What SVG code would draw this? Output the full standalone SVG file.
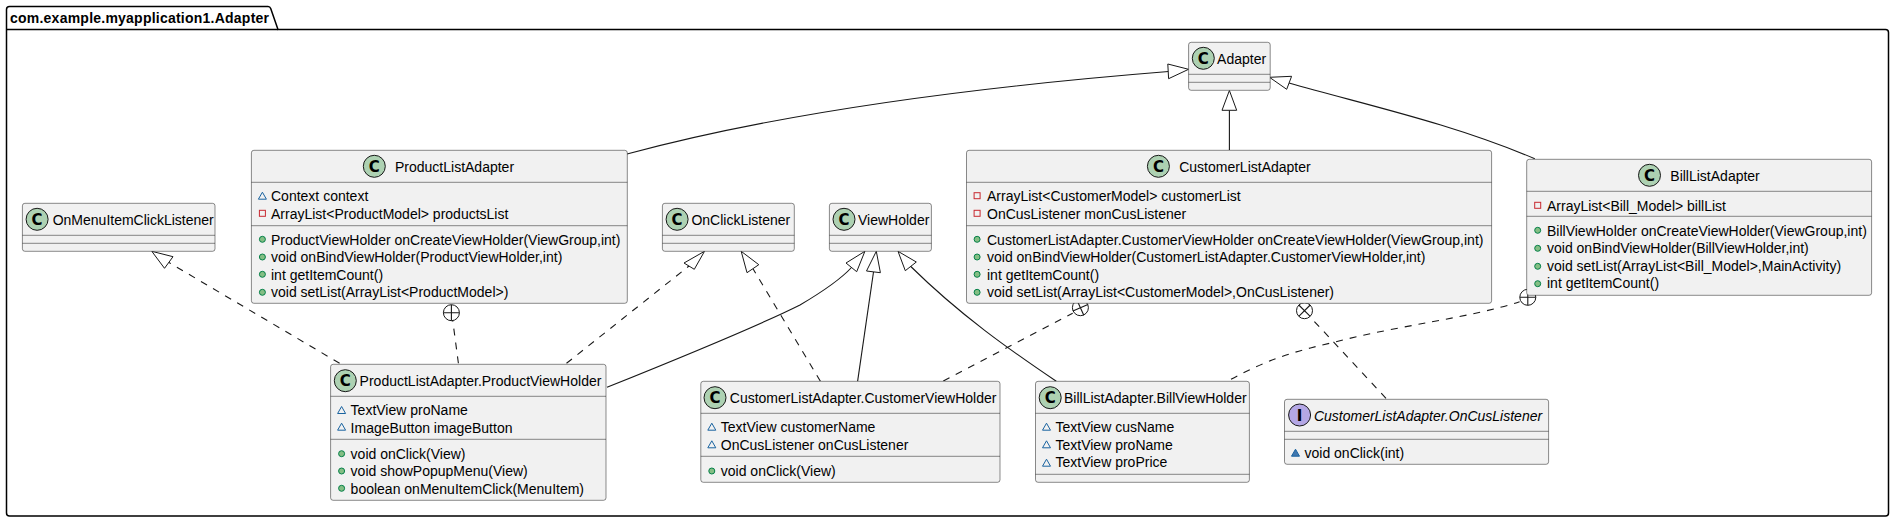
<svg xmlns="http://www.w3.org/2000/svg" width="1894" height="522" viewBox="0 0 1894 522">
<style>
text{font-family:"Liberation Sans",Arial,sans-serif;font-size:14px;fill:#000}
.pk{fill:#fff;stroke:#000;stroke-width:1.5}
.pt{font-weight:bold}
.b{fill:#F1F1F1;stroke:#181818;stroke-width:.5}
.s{stroke:#181818;stroke-width:.5;fill:none}
.ci{fill:#ADD1B2;stroke:#181818;stroke-width:1}
.ii{fill:#B4A7E5;stroke:#181818;stroke-width:1}
.g{font-family:"DejaVu Sans",sans-serif;font-weight:bold;font-size:15px;text-anchor:middle}
.it{font-style:italic}
.tri{fill:none;stroke:#1963A0;stroke-width:1}
.trf{fill:#4177AF;stroke:#1963A0;stroke-width:1}
.sq{fill:none;stroke:#C82930;stroke-width:1}
.pub{fill:#84BE84;stroke:#038048;stroke-width:1}
.l{fill:none;stroke:#181818;stroke-width:1.1}
.d{stroke-dasharray:7,7}
.h{fill:#fff;stroke:#181818;stroke-width:1}
</style>
<defs>
<path id="vt" d="M-4,3.5 L0,-3.5 L4,3.5 Z"/>
<rect id="vs" x="-3" y="-3" width="6" height="6"/>
<circle id="vc" r="3"/>
</defs>
<g id="package">
<path class="pk" d="M6.5,29.5 V9.5 Q6.5,6.5 9.5,6.5 H268 Q270,6.5 270.7,8.5 L278,29.5 H1885.5 Q1888.5,29.5 1888.5,32.5 V513 Q1888.5,516 1885.5,516 H9.5 Q6.5,516 6.5,513 Z"/>
<path class="pk" d="M6.5,29.5 H278" fill="none"/>
<text class="pt" x="10" y="23" textLength="259">com.example.myapplication1.Adapter</text>
</g>
<g id="connectors">
<path class="l" d="M627,154 C790,110 1000,85 1168.6,71.5"/>
<path class="h" d="M1188.6,69.3 L1167.8,64 L1168.6,78.7 Z"/>
<path class="l" d="M1229.4,150 V110.3"/>
<path class="h" d="M1229.4,90.5 L1222,110.3 L1236.7,110.3 Z"/>
<path class="l" d="M1534.8,158.7 C1450,123 1370,106 1289,83"/>
<path class="h" d="M1269.5,77.3 L1291.6,76.3 L1286.7,89.3 Z"/>
<path class="l d" d="M339.6,363.3 L168.6,262.3"/>
<path class="h" d="M151.8,251.3 L173,256.7 L164.5,268.3 Z"/>
<path class="l d" d="M566.5,363.3 L689,266"/>
<path class="h" d="M704.5,251.3 L684,263 L694.3,269.3 Z"/>
<path class="l d" d="M458.4,363.3 L452.7,320.3"/>
<circle class="h" cx="451.4" cy="312.7" r="8"/>
<path class="l" d="M443.4,312.7 H459.4 M451.4,304.7 V320.7"/>
<path class="l" d="M607,387.3 C680,358 760,325 800,305 C822,292 840,280 851.5,267.5"/>
<path class="h" d="M864.9,251.3 L846,263 L856.7,271.7 Z"/>
<path class="l" d="M857.6,381.3 L873.5,272"/>
<path class="h" d="M876.3,251.3 L866.5,271 L880.4,272.7 Z"/>
<path class="l" d="M1056.3,381.3 C1010,350 960,315 910.8,266.5"/>
<path class="h" d="M898,251.3 L916.3,262 L905.3,270.7 Z"/>
<path class="l d" d="M820.4,381.3 L753,268.7"/>
<path class="h" d="M741.2,251.3 L758.8,264.7 L747,272.7 Z"/>
<path class="l d" d="M943.3,381 L1072.7,313.3"/>
<circle class="h" cx="1080.4" cy="307.7" r="8"/>
<path class="l" d="M1072.9,311 L1087.9,304.4 M1077,300.2 L1083.8,315.2"/>
<path class="l d" d="M1386,398.3 L1311.4,318.3"/>
<circle class="h" cx="1304.5" cy="310.7" r="8"/>
<path class="l" d="M1298.8,305 L1310.2,316.4 M1310.2,305 L1298.8,316.4"/>
<path class="l d" d="M1231,379.3 C1270,358 1300,350 1333.9,342.3 C1400,325 1470,318 1519.6,301.7"/>
<circle class="h" cx="1527.8" cy="297.3" r="8"/>
<path class="l" d="M1519.8,297.3 H1535.8 M1527.8,289.3 V305.3"/>
</g>
<g id="OnMenuItemClickListener">
<rect class="b" x="22.4" y="203.3" width="192.6" height="48" rx="2.5"/>
<path class="s" d="M22.4,235.3 H215 M22.4,243.3 H215"/>
<circle class="ci" cx="37.1" cy="219.3" r="11"/><text class="g" x="37.1" y="224.8">C</text>
<text x="52.7" y="224.8">OnMenuItemClickListener</text>
</g>
<g id="ProductListAdapter">
<rect class="b" x="251.4" y="150.3" width="375.9" height="153" rx="2.5"/>
<path class="s" d="M251.4,182.3 H627.3 M251.4,225.7 H627.3"/>
<circle class="ci" cx="374.3" cy="166.3" r="11"/><text class="g" x="374.3" y="171.8">C</text>
<text x="395" y="171.7">ProductListAdapter</text>
<use class="tri" href="#vt" x="262.4" y="195.7"/><text x="271" y="201">Context context</text>
<use class="sq" href="#vs" x="262.4" y="213.3"/><text x="271" y="218.5">ArrayList&lt;ProductModel&gt; productsList</text>
<use class="pub" href="#vc" x="262.4" y="239.3"/><text x="271" y="244.5">ProductViewHolder onCreateViewHolder(ViewGroup,int)</text>
<use class="pub" href="#vc" x="262.4" y="257"/><text x="271" y="262">void onBindViewHolder(ProductViewHolder,int)</text>
<use class="pub" href="#vc" x="262.4" y="274.3"/><text x="271" y="279.5">int getItemCount()</text>
<use class="pub" href="#vc" x="262.4" y="292.3"/><text x="271" y="297">void setList(ArrayList&lt;ProductModel&gt;)</text>
</g>
<g id="OnClickListener">
<rect class="b" x="662.4" y="203.3" width="131.9" height="48" rx="2.5"/>
<path class="s" d="M662.4,235.3 H794.3 M662.4,243.3 H794.3"/>
<circle class="ci" cx="677.1" cy="219.3" r="11"/><text class="g" x="677.1" y="224.8">C</text>
<text x="691.4" y="224.8">OnClickListener</text>
</g>
<g id="ViewHolder">
<rect class="b" x="829.4" y="203.3" width="102" height="48" rx="2.5"/>
<path class="s" d="M829.4,235.3 H931.4 M829.4,243.3 H931.4"/>
<circle class="ci" cx="844" cy="219.3" r="11"/><text class="g" x="844" y="224.8">C</text>
<text x="858" y="224.8">ViewHolder</text>
</g>
<g id="Adapter">
<rect class="b" x="1188.6" y="42.3" width="81.6" height="48" rx="2.5"/>
<path class="s" d="M1188.6,74.3 H1270.2 M1188.6,82.3 H1270.2"/>
<circle class="ci" cx="1203.3" cy="58.3" r="11"/><text class="g" x="1203.3" y="63.8">C</text>
<text x="1217.1" y="63.8">Adapter</text>
</g>
<g id="CustomerListAdapter">
<rect class="b" x="966.5" y="150.3" width="525.1" height="153" rx="2.5"/>
<path class="s" d="M966.5,182.3 H1491.6 M966.5,225.7 H1491.6"/>
<circle class="ci" cx="1158.4" cy="166.3" r="11"/><text class="g" x="1158.4" y="171.8">C</text>
<text x="1179.2" y="171.7">CustomerListAdapter</text>
<use class="sq" href="#vs" x="977.1" y="195.7"/><text x="987" y="201">ArrayList&lt;CustomerModel&gt; customerList</text>
<use class="sq" href="#vs" x="977.1" y="213.3"/><text x="987" y="218.5">OnCusListener monCusListener</text>
<use class="pub" href="#vc" x="977.1" y="239.3"/><text x="987" y="244.5">CustomerListAdapter.CustomerViewHolder onCreateViewHolder(ViewGroup,int)</text>
<use class="pub" href="#vc" x="977.1" y="257"/><text x="987" y="262">void onBindViewHolder(CustomerListAdapter.CustomerViewHolder,int)</text>
<use class="pub" href="#vc" x="977.1" y="274.3"/><text x="987" y="279.5">int getItemCount()</text>
<use class="pub" href="#vc" x="977.1" y="292.3"/><text x="987" y="297">void setList(ArrayList&lt;CustomerModel&gt;,OnCusListener)</text>
</g>
<g id="BillListAdapter">
<rect class="b" x="1526.7" y="159.3" width="344.9" height="136" rx="2.5"/>
<path class="s" d="M1526.7,191.3 H1871.6 M1526.7,216.3 H1871.6"/>
<circle class="ci" cx="1649.5" cy="175.3" r="11"/><text class="g" x="1649.5" y="180.8">C</text>
<text x="1670.3" y="180.7">BillListAdapter</text>
<use class="sq" href="#vs" x="1537.7" y="205.3"/><text x="1547" y="210.5">ArrayList&lt;Bill_Model&gt; billList</text>
<use class="pub" href="#vc" x="1537.7" y="230.3"/><text x="1547" y="235.5">BillViewHolder onCreateViewHolder(ViewGroup,int)</text>
<use class="pub" href="#vc" x="1537.7" y="248.3"/><text x="1547" y="253">void onBindViewHolder(BillViewHolder,int)</text>
<use class="pub" href="#vc" x="1537.7" y="266.3"/><text x="1547" y="270.5">void setList(ArrayList&lt;Bill_Model&gt;,MainActivity)</text>
<use class="pub" href="#vc" x="1537.7" y="283.7"/><text x="1547" y="288">int getItemCount()</text>
</g>
<g id="ProductViewHolder">
<rect class="b" x="330.6" y="364.3" width="275.4" height="136" rx="2.5"/>
<path class="s" d="M330.6,396.3 H606 M330.6,439.3 H606"/>
<circle class="ci" cx="345.3" cy="380.7" r="11"/><text class="g" x="345.3" y="386.2">C</text>
<text x="359.6" y="386">ProductListAdapter.ProductViewHolder</text>
<use class="tri" href="#vt" x="341.6" y="410"/><text x="350.6" y="415.2">TextView proName</text>
<use class="tri" href="#vt" x="341.6" y="426.7"/><text x="350.6" y="432.5">ImageButton imageButton</text>
<use class="pub" href="#vc" x="341.6" y="453.7"/><text x="350.6" y="458.8">void onClick(View)</text>
<use class="pub" href="#vc" x="341.6" y="471"/><text x="350.6" y="476.2">void showPopupMenu(View)</text>
<use class="pub" href="#vc" x="341.6" y="488.3"/><text x="350.6" y="493.7">boolean onMenuItemClick(MenuItem)</text>
</g>
<g id="CustomerViewHolder">
<rect class="b" x="700.8" y="381.3" width="299.2" height="101" rx="2.5"/>
<path class="s" d="M700.8,413.3 H1000 M700.8,456.3 H1000"/>
<circle class="ci" cx="715" cy="397.7" r="11"/><text class="g" x="715" y="403.2">C</text>
<text x="729.8" y="403">CustomerListAdapter.CustomerViewHolder</text>
<use class="tri" href="#vt" x="711.8" y="426.7"/><text x="720.8" y="432">TextView customerName</text>
<use class="tri" href="#vt" x="711.8" y="444.3"/><text x="720.8" y="449.5">OnCusListener onCusListener</text>
<use class="pub" href="#vc" x="711.8" y="471"/><text x="720.8" y="476">void onClick(View)</text>
</g>
<g id="BillViewHolder">
<rect class="b" x="1035.5" y="381.3" width="213.9" height="101" rx="2.5"/>
<path class="s" d="M1035.5,413.3 H1249.4 M1035.5,474.3 H1249.4"/>
<circle class="ci" cx="1050.2" cy="397.7" r="11"/><text class="g" x="1050.2" y="403.2">C</text>
<text x="1064" y="403">BillListAdapter.BillViewHolder</text>
<use class="tri" href="#vt" x="1046.5" y="426.7"/><text x="1055.5" y="432">TextView cusName</text>
<use class="tri" href="#vt" x="1046.5" y="444.3"/><text x="1055.5" y="449.5">TextView proName</text>
<use class="tri" href="#vt" x="1046.5" y="462.7"/><text x="1055.5" y="467">TextView proPrice</text>
</g>
<g id="OnCusListener">
<rect class="b" x="1284.5" y="399.3" width="264.1" height="65" rx="2.5"/>
<path class="s" d="M1284.5,431.3 H1548.6 M1284.5,439.3 H1548.6"/>
<circle class="ii" cx="1299.6" cy="415" r="11"/><text class="g" x="1299.6" y="420.5">I</text>
<text class="it" x="1313.9" y="421">CustomerListAdapter.OnCusListener</text>
<use class="trf" href="#vt" x="1295.5" y="452.7"/><text x="1304.5" y="458">void onClick(int)</text>
</g>
</svg>
